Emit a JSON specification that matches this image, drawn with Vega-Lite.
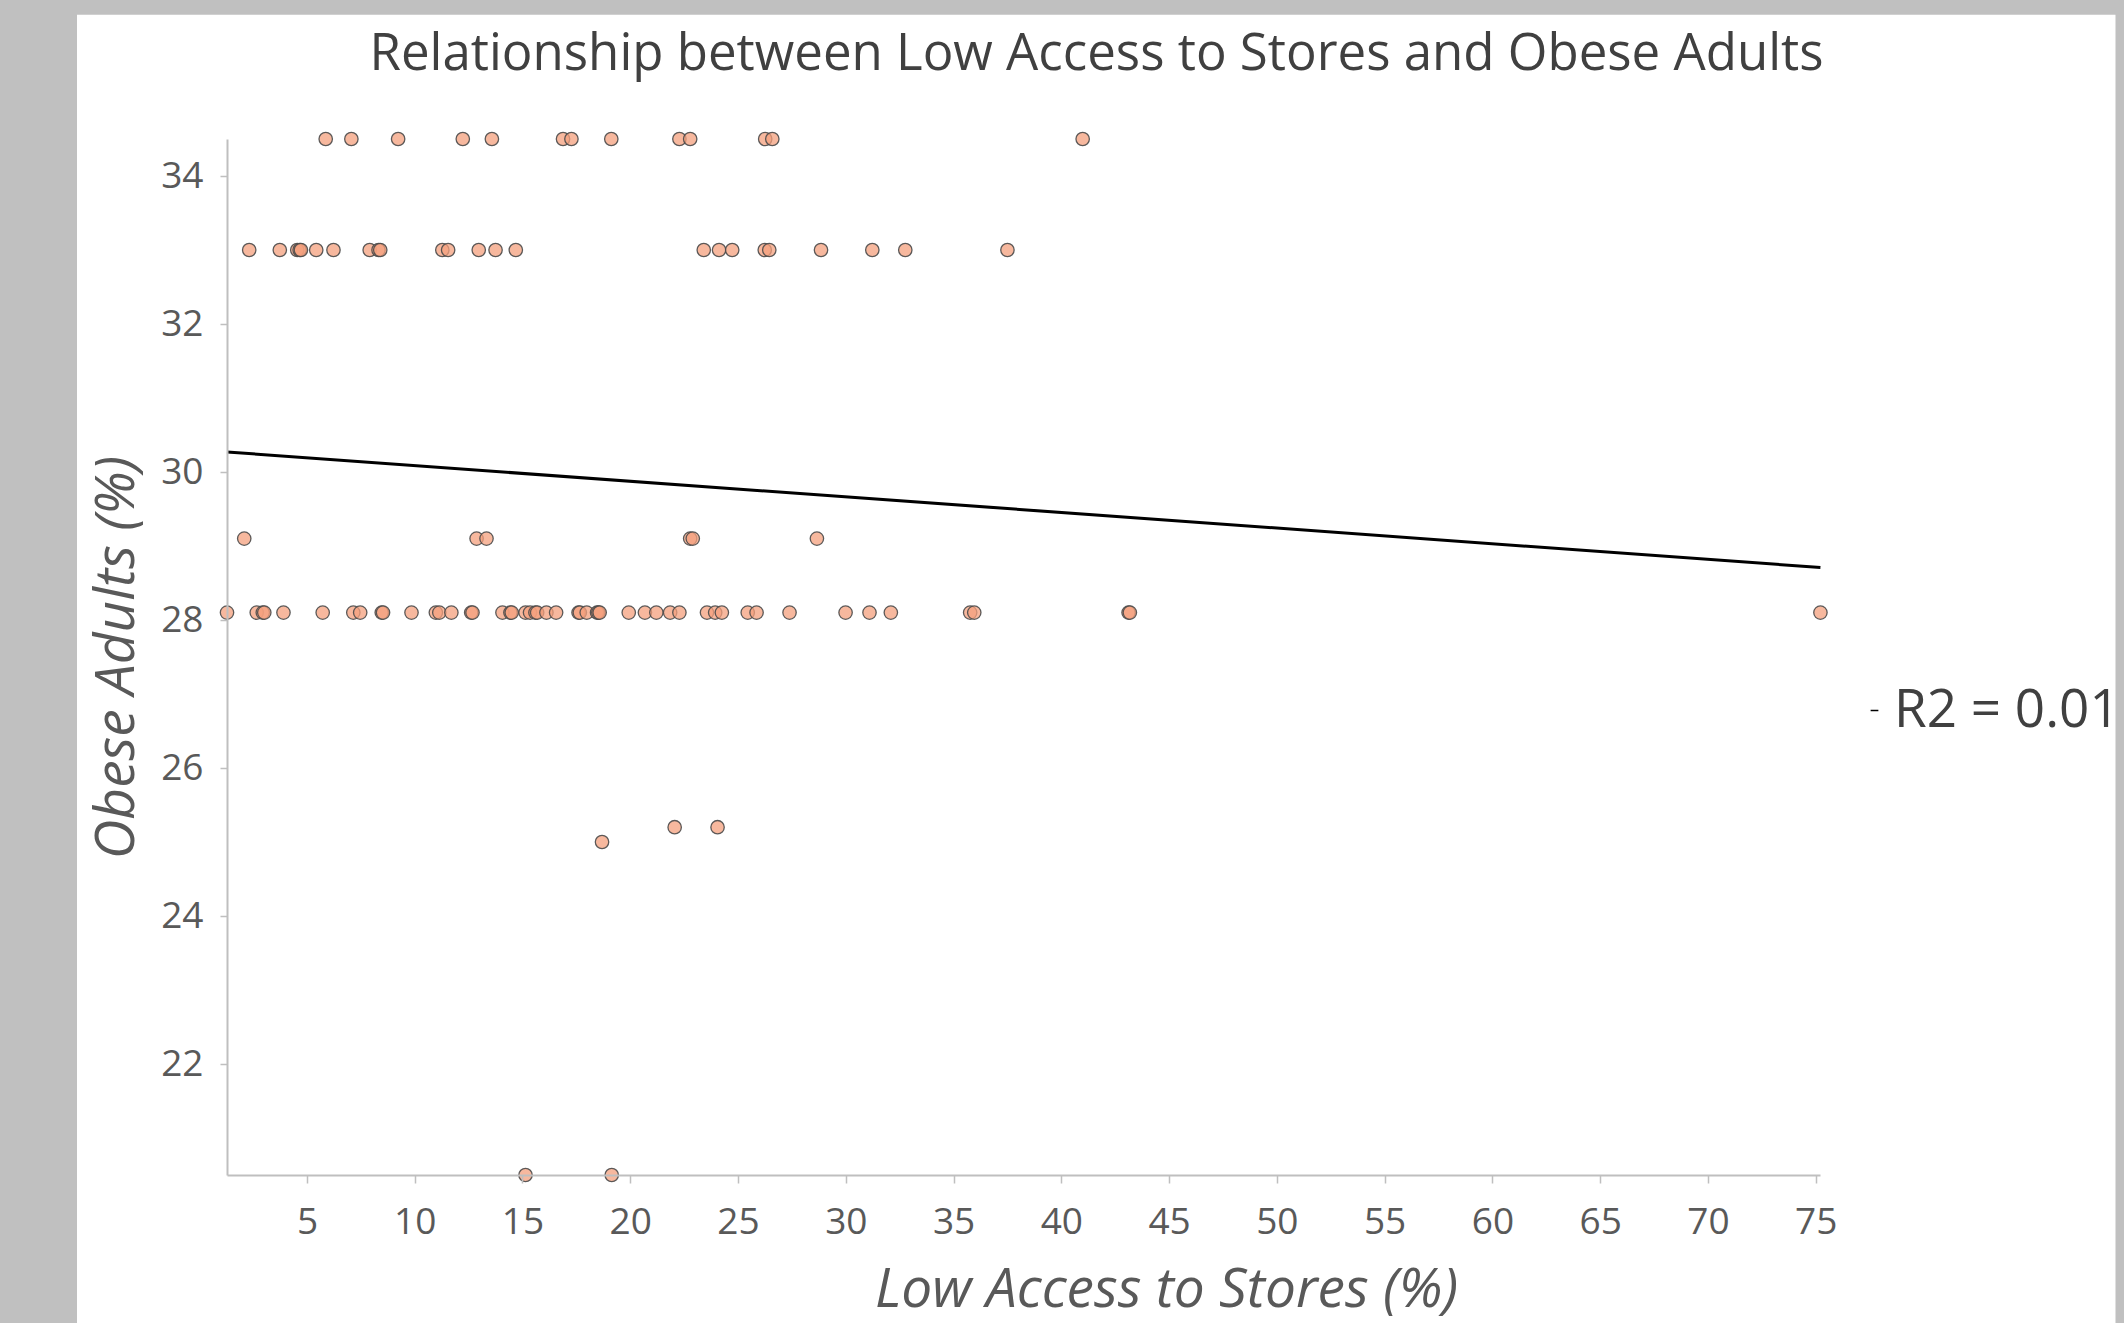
{
  "$schema": "https://vega.github.io/schema/vega-lite/v6.json",
  "autosize": {"type": "none"},
  "width": 1593,
  "height": 1036,
  "padding": {"left": 227, "top": 139, "right": 304, "bottom": 148},
  "background": "#c0c0c0",
  "title": {
    "text": "Relationship between Low Access to Stores and Obese Adults",
    "font": "Open Sans",
    "fontSize": 51,
    "fontWeight": "normal",
    "color": "#404040",
    "anchor": "middle",
    "baseline": "alphabetic",
    "offset": 0,
    "dx": 73,
    "dy": 106,
    "zindex": 2
  },
  "config": {
    "view": {"stroke": null},
    "axis": {
      "zindex": 2,
      "grid": false,
      "domainColor": "#BFBFBF",
      "domainWidth": 2,
      "tickColor": "#BFBFBF",
      "tickWidth": 1.5,
      "labelFont": "Open Sans",
      "labelFontSize": 37,
      "labelColor": "#595959",
      "titleFont": "Open Sans",
      "titleFontStyle": "italic",
      "titleFontWeight": "normal",
      "titleFontSize": 55,
      "titleColor": "#595959"
    },
    "legend": {"zindex": 2}
  },
  "layer": [
    {
      "data": {"values": [{}]},
      "mark": {"type": "rect", "fill": "white", "stroke": null, "zindex": 0},
      "encoding": {
        "x": {"datum": -5.67, "type": "quantitative"},
        "x2": {"datum": 88.91},
        "y": {"datum": 36.18, "type": "quantitative"},
        "y2": {"datum": 17.5}
      }
    },
    {
      "data": {"values": [
        {"x": 5.87, "y": 34.5}, {"x": 7.06, "y": 34.5}, {"x": 9.23, "y": 34.5}, {"x": 12.23, "y": 34.5},
        {"x": 13.58, "y": 34.5}, {"x": 16.88, "y": 34.5}, {"x": 17.27, "y": 34.5}, {"x": 19.12, "y": 34.5},
        {"x": 22.28, "y": 34.5}, {"x": 22.78, "y": 34.5}, {"x": 26.26, "y": 34.5}, {"x": 26.59, "y": 34.5},
        {"x": 40.99, "y": 34.5},
        {"x": 2.32, "y": 33.0}, {"x": 3.74, "y": 33.0}, {"x": 4.55, "y": 33.0}, {"x": 4.66, "y": 33.0},
        {"x": 4.72, "y": 33.0}, {"x": 5.43, "y": 33.0}, {"x": 6.23, "y": 33.0}, {"x": 7.91, "y": 33.0},
        {"x": 8.32, "y": 33.0}, {"x": 8.4, "y": 33.0}, {"x": 11.28, "y": 33.0}, {"x": 11.55, "y": 33.0},
        {"x": 12.97, "y": 33.0}, {"x": 13.75, "y": 33.0}, {"x": 14.69, "y": 33.0}, {"x": 23.41, "y": 33.0},
        {"x": 24.12, "y": 33.0}, {"x": 24.73, "y": 33.0}, {"x": 26.24, "y": 33.0}, {"x": 26.45, "y": 33.0},
        {"x": 28.85, "y": 33.0}, {"x": 31.23, "y": 33.0}, {"x": 32.76, "y": 33.0}, {"x": 37.5, "y": 33.0},
        {"x": 2.09, "y": 29.1}, {"x": 12.87, "y": 29.1}, {"x": 13.33, "y": 29.1}, {"x": 22.78, "y": 29.1},
        {"x": 22.9, "y": 29.1}, {"x": 28.66, "y": 29.1},
        {"x": 1.29, "y": 28.1}, {"x": 2.67, "y": 28.1}, {"x": 2.95, "y": 28.1}, {"x": 3.02, "y": 28.1},
        {"x": 3.91, "y": 28.1}, {"x": 5.73, "y": 28.1}, {"x": 7.15, "y": 28.1}, {"x": 7.47, "y": 28.1},
        {"x": 8.47, "y": 28.1}, {"x": 8.53, "y": 28.1}, {"x": 9.85, "y": 28.1}, {"x": 10.98, "y": 28.1},
        {"x": 11.14, "y": 28.1}, {"x": 11.7, "y": 28.1}, {"x": 12.62, "y": 28.1}, {"x": 12.68, "y": 28.1},
        {"x": 14.07, "y": 28.1}, {"x": 14.44, "y": 28.1}, {"x": 14.5, "y": 28.1}, {"x": 15.14, "y": 28.1},
        {"x": 15.35, "y": 28.1}, {"x": 15.6, "y": 28.1}, {"x": 15.68, "y": 28.1}, {"x": 16.11, "y": 28.1},
        {"x": 16.56, "y": 28.1}, {"x": 17.6, "y": 28.1}, {"x": 17.66, "y": 28.1}, {"x": 17.98, "y": 28.1},
        {"x": 18.46, "y": 28.1}, {"x": 18.52, "y": 28.1}, {"x": 18.58, "y": 28.1}, {"x": 19.93, "y": 28.1},
        {"x": 20.68, "y": 28.1}, {"x": 21.21, "y": 28.1}, {"x": 21.85, "y": 28.1}, {"x": 22.28, "y": 28.1},
        {"x": 23.56, "y": 28.1}, {"x": 23.94, "y": 28.1}, {"x": 24.25, "y": 28.1}, {"x": 25.45, "y": 28.1},
        {"x": 25.86, "y": 28.1}, {"x": 27.39, "y": 28.1}, {"x": 29.99, "y": 28.1}, {"x": 31.1, "y": 28.1},
        {"x": 32.09, "y": 28.1}, {"x": 35.77, "y": 28.1}, {"x": 35.96, "y": 28.1}, {"x": 43.12, "y": 28.1},
        {"x": 43.18, "y": 28.1}, {"x": 75.22, "y": 28.1},
        {"x": 18.69, "y": 25.0}, {"x": 22.06, "y": 25.2}, {"x": 24.05, "y": 25.2},
        {"x": 15.14, "y": 20.5}, {"x": 19.14, "y": 20.5}
      ]},
      "mark": {"type": "point", "shape": "circle", "filled": true, "size": 180, "fill": "#F4A07E", "fillOpacity": 0.75, "stroke": "#4a4a4a", "strokeWidth": 1.3, "strokeOpacity": 0.9, "zindex": 1},
      "encoding": {
        "x": {
          "field": "x", "type": "quantitative",
          "scale": {"domain": [1.29, 75.2], "nice": false, "zero": false},
          "axis": {
            "zindex": 1,
            "title": "Low Access to Stores (%)",
            "values": [5, 10, 15, 20, 25, 30, 35, 40, 45, 50, 55, 60, 65, 70, 75],
            "format": "d",
            "tickSize": 8,
            "labelPadding": 21,
            "labelFlush": false,
            "labelOverlap": false,
            "titleX": 939,
            "titleY": 131,
            "titleAlign": "center",
            "titleBaseline": "alphabetic",
            "titleAnchor": null
          }
        },
        "y": {
          "field": "y", "type": "quantitative",
          "scale": {"domain": [20.5, 34.5], "nice": false, "zero": false},
          "axis": {
            "zindex": 1,
            "title": "Obese Adults (%)",
            "values": [22, 24, 26, 28, 30, 32, 34],
            "format": "d",
            "tickSize": 7,
            "labelPadding": 17,
            "labelFlush": false,
            "titleX": -94,
            "titleY": 518,
            "titleAngle": 270,
            "titleAlign": "center",
            "titleBaseline": "alphabetic"
          }
        }
      }
    },
    {
      "data": {"values": [
        {"x": 1.29, "y": 30.27, "series": "R2 = 0.01"},
        {"x": 75.22, "y": 28.71, "series": "R2 = 0.01"}
      ]},
      "mark": {"type": "line", "strokeWidth": 3, "zindex": 1},
      "encoding": {
        "x": {"field": "x", "type": "quantitative"},
        "y": {"field": "y", "type": "quantitative"},
        "color": {
          "field": "series", "type": "nominal",
          "scale": {"range": ["#000000"]},
          "legend": {
            "zindex": 2,
            "title": null,
            "orient": "none",
            "legendX": 1621,
            "legendY": 545,
            "padding": 0,
            "symbolType": "stroke",
            "symbolSize": 60,
            "symbolStrokeWidth": 1.5,
            "symbolStrokeColor": "#404040",
            "labelFont": "Open Sans",
            "labelFontSize": 53,
            "labelColor": "#404040",
            "labelOffset": -7,
            "labelLimit": 400
          }
        }
      }
    }
  ]
}
